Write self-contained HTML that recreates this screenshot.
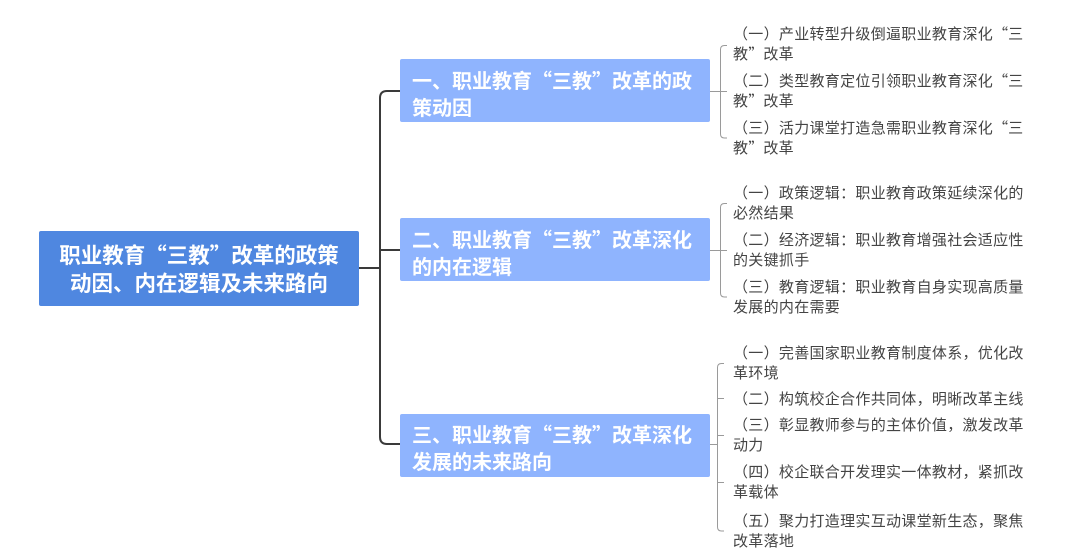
<!DOCTYPE html>
<html>
<head>
<meta charset="utf-8">
<style>
  html, body { margin:0; padding:0; background:#fff; }
  body { width:1080px; height:559px; position:relative; overflow:hidden;
         font-family:"Liberation Sans","Noto Sans CJK SC",sans-serif; }
  .box { position:absolute; border-radius:2px; }
  .root { left:39px; top:231px; width:320px; height:75px; background:#4f87e0; }
  .sub { left:400px; width:310px; height:63px; background:#8fb4fe; }
  .rt { position:absolute; left:39px; width:320px; text-align:center; color:#fff;
        font-weight:bold; font-size:21.5px; line-height:28px; white-space:nowrap;
        font-family:"Noto Sans CJK SC","Liberation Sans",sans-serif; }
  .st { position:absolute; left:412px; color:#fff; font-weight:bold; font-size:20px;
        line-height:27px; white-space:nowrap;
        font-family:"Noto Sans CJK SC","Liberation Sans",sans-serif; }
  .lf { position:absolute; left:733px; color:#444; font-size:15px; line-height:20px;
        letter-spacing:0.3px; white-space:nowrap;
        font-family:"Noto Sans CJK SC","Liberation Sans",sans-serif; }
  .q { display:inline-block; width:1em; font-family:"Noto Sans CJK SC",sans-serif; }
  .ql { text-align:right; }
  .qr { text-align:left; }
  svg { position:absolute; left:0; top:0; }
</style>
</head>
<body>
<svg width="1080" height="559" viewBox="0 0 1080 559">
  <!-- main trunk -->
  <g fill="none" stroke="#3a3a3a" stroke-width="2">
    <path d="M359 268 H380"/>
    <path d="M400 91 H387 Q380 91 380 98 V437 Q380 444 387 444 H400"/>
    <path d="M380 250 H400"/>
  </g>
  <!-- brackets -->
  <g fill="none" stroke="#9a9a9a" stroke-width="1">
    <!-- group 1 -->
    <path d="M727 45.5 H724.5 Q720.5 45.5 720.5 49.5 V134 Q720.5 138 724.5 138 H727"/>
    <path d="M710 91.5 H727"/>
    <!-- group 2 -->
    <path d="M727 203.5 H724.5 Q720.5 203.5 720.5 207.5 V293 Q720.5 297 724.5 297 H727"/>
    <path d="M710 250.5 H727"/>
    <!-- group 3 -->
    <path d="M724 363.5 H721.5 Q717.5 363.5 717.5 367.5 V527 Q717.5 531 721.5 531 H724"/>
    <path d="M717.5 398.5 H724"/>
    <path d="M717.5 435.5 H724"/>
    <path d="M717.5 482.5 H724"/>
    <path d="M709 444.5 H717.5"/>
  </g>
</svg>

<!-- root -->
<div class="box root"></div>
<div class="rt" style="top:241px;">职业教育<span class="q ql">“</span>三教<span class="q qr">”</span>改革的政策</div>
<div class="rt" style="top:269px;">动因、内在逻辑及未来路向</div>

<!-- sub boxes -->
<div class="box sub" style="top:59px;"></div>
<div class="st" style="top:65.5px;">一、职业教育<span class="q ql">“</span>三教<span class="q qr">”</span>改革的政</div>
<div class="st" style="top:92.5px;">策动因</div>

<div class="box sub" style="top:218px;"></div>
<div class="st" style="top:224.5px;">二、职业教育<span class="q ql">“</span>三教<span class="q qr">”</span>改革深化</div>
<div class="st" style="top:251.5px;">的内在逻辑</div>

<div class="box sub" style="top:414px;"></div>
<div class="st" style="top:420px;">三、职业教育<span class="q ql">“</span>三教<span class="q qr">”</span>改革深化</div>
<div class="st" style="top:447px;">发展的未来路向</div>

<!-- group 1 leaves -->
<div class="lf" style="top:24px;">（一）产业转型升级倒逼职业教育深化<span class="q ql">“</span>三</div>
<div class="lf" style="top:44px;">教<span class="q qr">”</span>改革</div>
<div class="lf" style="top:71px;">（二）类型教育定位引领职业教育深化<span class="q ql">“</span>三</div>
<div class="lf" style="top:91px;">教<span class="q qr">”</span>改革</div>
<div class="lf" style="top:118px;">（三）活力课堂打造急需职业教育深化<span class="q ql">“</span>三</div>
<div class="lf" style="top:138px;">教<span class="q qr">”</span>改革</div>

<!-- group 2 leaves -->
<div class="lf" style="top:183px;">（一）政策逻辑：职业教育政策延续深化的</div>
<div class="lf" style="top:203px;">必然结果</div>
<div class="lf" style="top:230px;">（二）经济逻辑：职业教育增强社会适应性</div>
<div class="lf" style="top:250px;">的关键抓手</div>
<div class="lf" style="top:277px;">（三）教育逻辑：职业教育自身实现高质量</div>
<div class="lf" style="top:297px;">发展的内在需要</div>

<!-- group 3 leaves -->
<div class="lf" style="top:343px;">（一）完善国家职业教育制度体系，优化改</div>
<div class="lf" style="top:363px;">革环境</div>
<div class="lf" style="top:389px;">（二）构筑校企合作共同体，明晰改革主线</div>
<div class="lf" style="top:415px;">（三）彰显教师参与的主体价值，激发改革</div>
<div class="lf" style="top:435px;">动力</div>
<div class="lf" style="top:462px;">（四）校企联合开发理实一体教材，紧抓改</div>
<div class="lf" style="top:482px;">革载体</div>
<div class="lf" style="top:511px;">（五）聚力打造理实互动课堂新生态，聚焦</div>
<div class="lf" style="top:531px;">改革落地</div>
</body>
</html>
